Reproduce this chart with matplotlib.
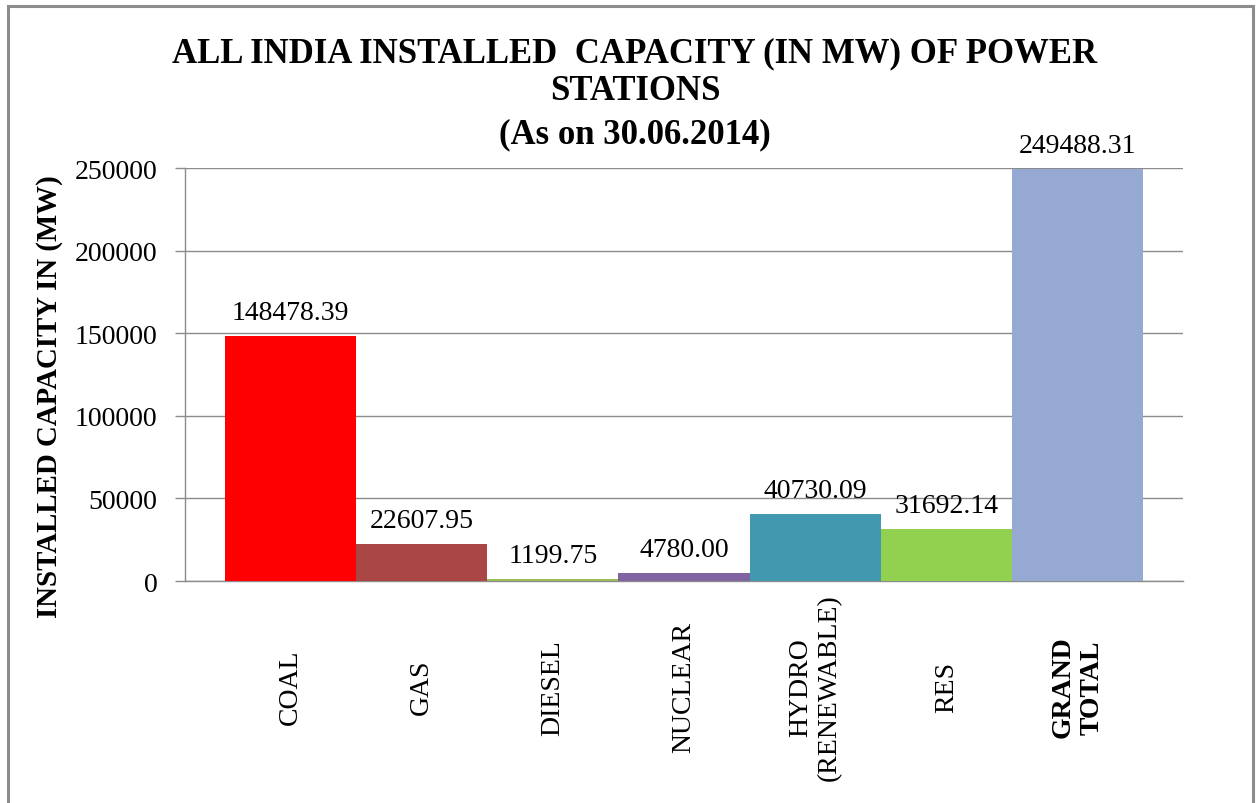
import matplotlib.pyplot as plt
from matplotlib.patches import Rectangle

# =========================================
# DATA
# =========================================
categories = ["COAL", "GAS", "DIESEL", "NUCLEAR", "HYDRO\n(RENEWABLE)", "RES", "GRAND\nTOTAL"]
capacity_mw = [148478.39, 22607.95, 1199.75, 4780.00, 40730.09, 31692.14, 249488.31]
bar_colors = ["#FF0000", "#AA4643", "#9BBB59", "#8064A2", "#4198AF", "#92D050", "#95A9D3"]
y_ticks = [0, 50000, 100000, 150000, 200000, 250000]

title_lines = ["ALL INDIA INSTALLED  CAPACITY (IN MW) OF POWER",
               "STATIONS",
               "(As on 30.06.2014)"]
YLABEL = "INSTALLED CAPACITY IN (MW)"


# =========================================
# PLOTTING
# =========================================
def plot_chart():

    plt.rcParams.update({
        "font.family": ["Liberation Serif", "DejaVu Serif"],
        "font.size": 20,
    })

    fig = plt.figure(figsize=(12.58, 8.04), dpi=100)
    ax = fig.add_axes([0.1471, 0.2761, 0.7933, 0.5137])

    x = list(range(len(categories)))
    bars = ax.bar(x, capacity_mw, width=1.0, color=bar_colors, zorder=3)

    # value labels above bars
    for b, v in zip(bars, capacity_mw):
        ax.annotate(f"{v:.2f}", (b.get_x() + b.get_width() / 2, v),
                    xytext=(0, 8), textcoords="offset points",
                    ha="center", va="bottom", fontsize=20)

    ax.set_ylim(0, 250000)
    ax.set_xlim(-0.805, 6.805)
    ax.set_yticks(y_ticks)
    ax.set_yticklabels([str(t) for t in y_ticks])
    ax.yaxis.grid(True, color="#8C8C8C", linewidth=1.0, zorder=0)
    ax.set_axisbelow(True)

    ax.tick_params(axis="y", length=7, width=1.0, color="#8C8C8C", pad=13)
    ax.tick_params(axis="x", length=0, pad=76)

    ax.set_xticks(x)
    ax.set_xticklabels(categories, rotation=90, ha="center", va="center",
                       multialignment="center")
    ax.get_xticklabels()[-1].set_fontweight("bold")

    for side in ["top", "right"]:
        ax.spines[side].set_visible(False)
    for side in ["left", "bottom"]:
        ax.spines[side].set_color("#8C8C8C")
        ax.spines[side].set_linewidth(1.0)

    ax.set_ylabel(YLABEL, fontweight="bold", fontsize=20.8, va="center")
    ax.yaxis.set_label_coords(-0.136, 0.448)

    # title, one text per line (baselines in pixels from top)
    for line, base in zip(title_lines, [62, 100, 143]):
        fig.text(635 / 1258, 1 - base / 804, line, ha="center", va="baseline",
                 fontsize=25, fontweight="bold")

    # chart border
    fig.patches.append(Rectangle((8 / 1258, -0.02), 1245 / 1258, 1.02 - 7 / 804,
                                 transform=fig.transFigure, fill=False,
                                 edgecolor="#8C8C8C", linewidth=2.2))

    fig.savefig("out.png", dpi=100)


# =========================================
# MAIN
# =========================================
if __name__ == "__main__":
    plot_chart()
